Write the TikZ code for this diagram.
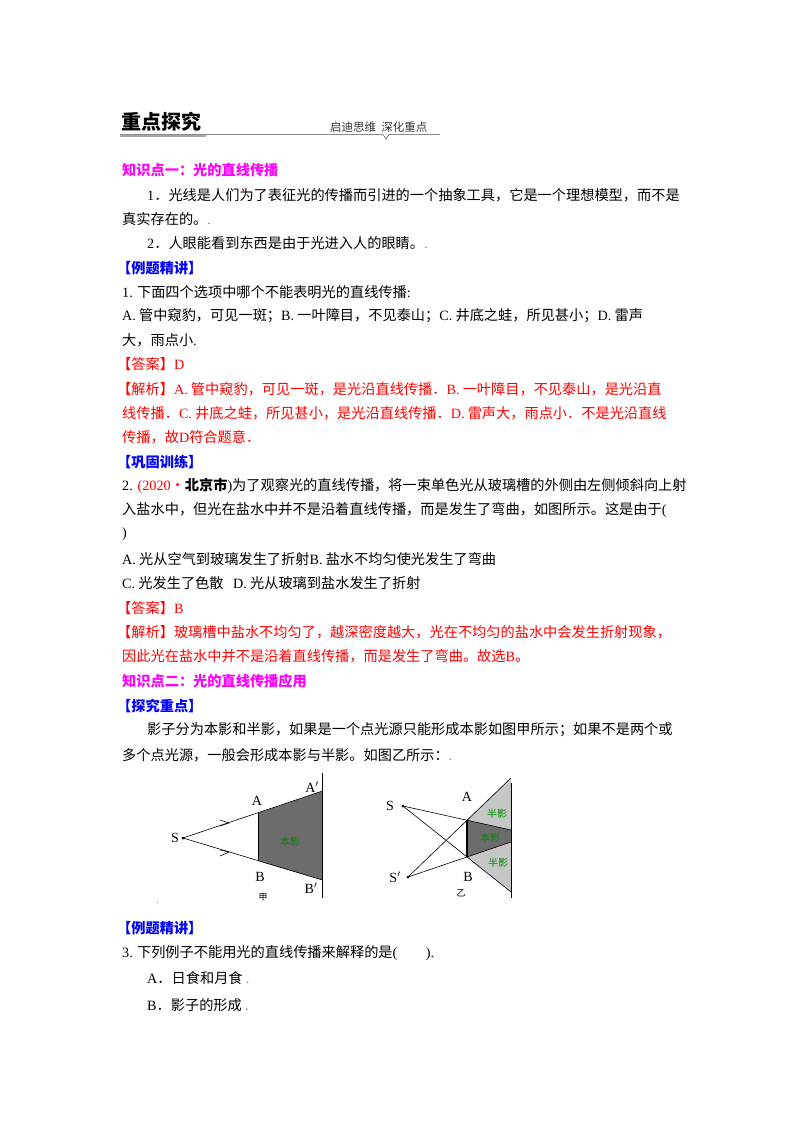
\documentclass[tikz,border=0pt]{standalone}
\usepackage{fontspec}
\setmainfont{Noto Sans CJK SC}
\newfontfamily\lat{Liberation Serif}
\definecolor{mag}{RGB}{255,0,255}
\definecolor{blu}{RGB}{0,0,255}
\definecolor{rd}{RGB}{255,0,0}
\definecolor{grn}{RGB}{0,140,0}
\begin{document}
\begin{tikzpicture}[x=1pt,y=-1pt,
  t/.style={anchor=west,inner sep=0pt,font=\fontsize{14.2}{17}\selectfont},
  hm/.style={t,text=mag,font=\fontsize{14.2}{17}\selectfont\bfseries},
  hb/.style={t,text=blu,font=\fontsize{14.2}{17}\selectfont\bfseries},
  r/.style={t,text=rd},
  lb/.style={inner sep=0pt,font=\lat\fontsize{14}{16}\selectfont},
  gl/.style={inner sep=0pt,text=grn,font=\fontsize{10}{11}\selectfont},
  ln/.style={line width=0.6pt}]
\useasboundingbox[fill=white] (0,0) rectangle (800,1132);
% header
\node[t,font=\fontsize{20}{22}\selectfont\bfseries] (hd) at (121,122) {重点探究};
\node[t,font=\fontsize{11.5}{12}\selectfont,text=black!80] (hd2) at (330,127) {启迪思维\ \ 深化重点};
\draw[gray!70,line width=2.5pt] (120,136) -- (206,136);
\coordinate (u1) at (120,134.5);
\coordinate (u2) at (440,134.5);
\draw[black!70,line width=0.5pt] (u1) -- (383,134.5) -- (386,139) -- (389,134.5) -- (u2);
% text
\node[hm] (k1) at (122,170) {知识点一：光的直线传播};
\node[t] (p1) at (147,195) {{\lat 1}．光线是人们为了表征光的传播而引进的一个抽象工具，它是一个理想模型，而不是};
\node[t] (p2) at (122,219) {真实存在的。{\lat\color{gray} .}};
\node[t] (p3) at (147,243) {{\lat 2}．人眼能看到东西是由于光进入人的眼睛。{\lat\color{gray} .}};
\node[hb] (e1) at (117,268) {【例题精讲】};
\node[t] (q1) at (122,292) {{\lat 1.} 下面四个选项中哪个不能表明光的直线传播{\lat :}};
\node[t] (q2) at (122,316) {{\lat A.} 管中窥豹，可见一斑；{\lat B.} 一叶障目，不见泰山；{\lat C.} 井底之蛙，所见甚小；{\lat D.} 雷声};
\node[t] (q3) at (122,340) {大，雨点小{\lat .}};
\node[r] (a1) at (117,364) {【答案】{\lat D}};
\node[r] (j1) at (117,389) {【解析】{\lat A.} 管中窥豹，可见一斑，是光沿直线传播．{\lat B.} 一叶障目，不见泰山，是光沿直};
\node[r] (j2) at (122,413) {线传播．{\lat C.} 井底之蛙，所见甚小，是光沿直线传播．{\lat D.} 雷声大，雨点小．不是光沿直线};
\node[r] (j3) at (122,437) {传播，故{\lat D}符合题意．};
\node[hb] (e2) at (117,462) {【巩固训练】};
\node[t] (q4) at (122,486) {{\lat 2. }{\color{rd}{\lat (2020}·}{\bfseries 北京市}{\lat )}为了观察光的直线传播，将一束单色光从玻璃槽的外侧由左侧倾斜向上射};
\node[t] (q5) at (122,510) {入盐水中，但光在盐水中并不是沿着直线传播，而是发生了弯曲，如图所示。这是由于{\lat (}};
\node[t] (q6) at (122,534) {\lat )};
\node[t] (q7) at (122,559) {{\lat A.} 光从空气到玻璃发生了折射{\lat B.} 盐水不均匀使光发生了弯曲};
\node[t] (q8) at (122,583) {{\lat C.} 光发生了色散\ \ \ {\lat D.} 光从玻璃到盐水发生了折射};
\node[r] (a2) at (117,608) {【答案】{\lat B}};
\node[r] (j4) at (117,632) {【解析】玻璃槽中盐水不均匀了，越深密度越大，光在不均匀的盐水中会发生折射现象，};
\node[r] (j5) at (122,656) {因此光在盐水中并不是沿着直线传播，而是发生了弯曲。故选{\lat B}。};
\node[hm] (k2) at (122,681) {知识点二：光的直线传播应用};
\node[hb] (e3) at (117,706) {【探究重点】};
\node[t] (p4) at (147,730) {影子分为本影和半影，如果是一个点光源只能形成本影如图甲所示；如果不是两个或};
\node[t] (p5) at (122,755) {多个点光源，一般会形成本影与半影。如图乙所示：{\lat\color{gray} .}};
% left figure
\coordinate (S) at (183,838);
\coordinate (A) at (258,813);
\coordinate (B) at (258,861);
\coordinate (A2) at (322.5,791);
\coordinate (B2) at (322.5,880);
\coordinate (sc1) at (322.5,773);
\coordinate (sc2) at (322.5,898);
\fill[gray!85!black] (A) -- (A2) -- (B2) -- (B) -- cycle;
\draw[ln] (A) -- (B);
\draw[ln] (S) -- (A2);
\draw[ln] (S) -- (B2);
\draw[ln] (sc1) -- (sc2);
\draw[ln] (220,820) -- (229,823) -- (220,826);
\draw[ln] (220,850) -- (229,852) -- (220,856);
\fill (S) circle (1.5);
\node[lb] (lS) at (175,838) {S};
\node[lb] (lA) at (257,801) {A};
\node[lb] (lB) at (260,877) {B};
\node[lb] (lA2) at (312,787) {A$'$};
\node[lb] (lB2) at (311,888) {B$'$};
\node[inner sep=0pt,font=\fontsize{9}{10}\selectfont] (jia) at (263,897) {甲};
\node[gl] (by1) at (290,842) {本影};
% right figure
\coordinate (T) at (403,806);
\coordinate (T2) at (408,877);
\coordinate (P) at (467,820);
\coordinate (Q) at (467,857);
\coordinate (r1) at (511,778);
\coordinate (r2) at (511,830);
\coordinate (r3) at (511,842);
\coordinate (r4) at (511,892);
\coordinate (rt) at (511,783);
\coordinate (rb) at (511,898);
\fill[gray!45] (P) -- (r1) -- (r2) -- cycle;
\fill[gray!45] (Q) -- (r3) -- (r4) -- cycle;
\fill[gray!85!black] (P) -- (r2) -- (r3) -- (Q) -- cycle;
\draw[ln] (T) -- (r2);
\draw[ln] (T) -- (r4);
\draw[ln] (T2) -- (r1);
\draw[ln] (T2) -- (r3);
\draw[line width=1.2pt] (P) -- (Q);
\draw[ln] (rt) -- (rb);
\fill (T) circle (1.5);
\fill (T2) circle (1.5);
\node[lb] (lT) at (390,806) {S};
\node[lb] (lT2) at (395,877) {S$'$};
\node[lb] (lP) at (467,797) {A};
\node[lb] (lQ) at (468,877) {B};
\node[inner sep=0pt,font=\fontsize{9}{10}\selectfont] (yi) at (461,893) {乙};
\node[gl] (bb1) at (497,814) {半影};
\node[gl] (by2) at (490,838) {本影};
\node[gl] (bb2) at (498,863) {半影};
\node[t,font=\lat\fontsize{10}{12}\selectfont,text=gray] (dot) at (156,903) {.};
% after figure
\node[hb] (e4) at (117,928) {【例题精讲】};
\node[t] (q9) at (122,953) {{\lat 3.} 下列例子不能用光的直线传播来解释的是{\lat (}\hspace{2em}{\lat ).}};
\node[t] (q10) at (147,978) {{\lat A}．日食和月食 {\lat\color{gray} .}};
\node[t] (q11) at (147,1005) {{\lat B}．影子的形成 {\lat\color{gray} .}};
\end{tikzpicture}
\end{document}
